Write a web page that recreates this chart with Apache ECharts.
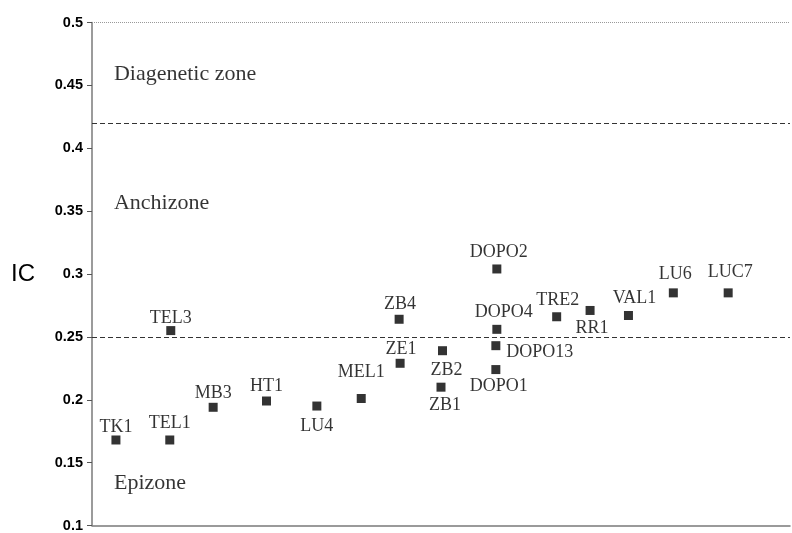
<!DOCTYPE html>
<html>
<head>
<meta charset="utf-8">
<script src="https://cdn.jsdelivr.net/npm/echarts@6/dist/echarts.min.js"></script>
<style>html,body{margin:0;padding:0;background:#fff}#c{width:792px;height:533px}</style>
</head>
<body>
<div id="c"></div>
<script>
// Data
var samples = ['TK1','TEL1','TEL3','MB3','HT1','LU4','MEL1','ZB4','ZE1','ZB2','ZB1','DOPO2','DOPO4','DOPO13','DOPO1','TRE2','RR1','VAL1','LU6','LUC7'];
var xOrder  = [0.48,1.56,1.58,2.43,3.50,4.51,5.40,6.16,6.18,7.03,7.00,8.12,8.12,8.10,8.10,9.32,9.99,10.76,11.66,12.76];
var icValues = [0.168,0.168,0.255,0.194,0.199,0.195,0.201,0.264,0.229,0.239,0.210,0.304,0.256,0.243,0.224,0.266,0.271,0.267,0.285,0.285];
var zoneBoundaries = [0.418, 0.25];
var zoneNames = ['Diagenetic zone','Anchizone','Epizone'];
var zoneLabelY = [0.4585, 0.3565, 0.134];
var yTicks = [0.1,0.15,0.2,0.25,0.3,0.35,0.4,0.45,0.5];

// Label placement (style only)
var labelOffset = {
  TK1:[0,-13], TEL1:[0,-17], TEL3:[0,-12], MB3:[0,-14], HT1:[0,-15], LU4:[0,20],
  MEL1:[0,-26], ZB4:[1,-15], ZE1:[1,-14], ZB2:[4,20], ZB1:[4,18], DOPO2:[2,-17],
  DOPO4:[7,-17], DOPO13:[44,7], DOPO1:[3,17], TRE2:[1,-16], RR1:[2,18],
  VAL1:[6,-17], LU6:[2,-19], LUC7:[2,-21]
};

var pts = samples.map(function(n,i){
  return {name:n, value:[xOrder[i], icValues[i]],
    label:{offset: labelOffset[n] || [0,-14]}};
});

var chart = echarts.init(document.getElementById('c'), null, {renderer:'canvas'});
var grid = {left:92, right:2, top:22.5, bottom:3.3};

chart.setOption({
  animation:false,
  backgroundColor:'#fff',
  grid:grid,
  xAxis:{type:'value', min:0, max:14, show:true,
    axisLine:{show:true, onZero:false, lineStyle:{color:'#7a7a7a', width:1.5}},
    axisTick:{show:false}, axisLabel:{show:false}, splitLine:{show:false}},
  yAxis:{type:'value', min:0.1, max:0.5, interval:0.05,
    axisLine:{show:true, lineStyle:{color:'#7a7a7a', width:1.5}},
    axisTick:{show:true, inside:false, length:5, lineStyle:{color:'#555'}},
    axisLabel:{color:'#000', fontFamily:'Liberation Sans', fontWeight:'bold', fontSize:14.5, margin:9,
      formatter:function(v){ return String(+v.toFixed(2)); }},
    splitLine:{show:false}},
  graphic:[
    {type:'text', left:11, top:262, style:{text:'IC', font:'24px "Liberation Sans"', fill:'#000'}}
  ],
  series:[{
    type:'scatter',
    symbol:'rect', symbolSize:9,
    itemStyle:{color:'#000'},
    data:pts,
    label:{show:true, position:'inside', formatter:'{b}', color:'#000',
      fontFamily:'Liberation Serif', fontSize:18},
    markLine:{
      silent:true, symbol:['none','none'], label:{show:false},
      data:[
        {yAxis:0.5, lineStyle:{color:'#999', type:[1,1], width:1.2}},
        {yAxis:zoneBoundaries[0], lineStyle:{color:'#333', type:[5,3], width:1}},
        {yAxis:zoneBoundaries[1], lineStyle:{color:'#333', type:[5,3], width:1}}
      ]
    }
  },{
    type:'scatter', symbolSize:0, silent:true,
    data:zoneNames.map(function(n,i){ return {name:n, value:[0.44, zoneLabelY[i]]}; }),
    label:{show:true, position:'right', distance:0, formatter:'{b}', color:'#000',
      fontFamily:'Liberation Serif', fontSize:22}
  }]
});
</script>
</body>
</html>
